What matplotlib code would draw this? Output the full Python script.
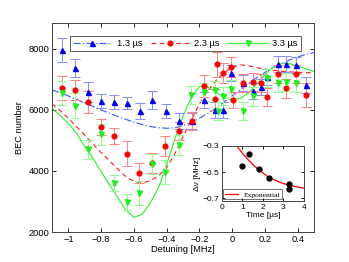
import matplotlib
matplotlib.use("Agg")
import matplotlib.pyplot as plt

plt.rcParams['font.family'] = ['Liberation Sans', 'DejaVu Sans']
plt.rcParams['axes.unicode_minus'] = True

# ---- data ----
blue_x = [-1.04, -0.96, -0.88, -0.80, -0.72, -0.645, -0.565, -0.49, -0.405, -0.325, -0.248, -0.172,
          -0.105, -0.057, -0.005, 0.065, 0.124, 0.175, 0.213, 0.28, 0.331, 0.388, 0.453]
blue_y = [7968, 7378, 6591, 6295, 6263, 6230, 5968, 6328, 5968, 5640, 5640, 6328,
          6000, 6000, 7214, 6886, 6623, 6754, 7082, 7509, 7509, 7476, 6820]
blue_e = [390, 300, 330, 215, 230, 200, 250, 280, 230, 250, 260, 260,
          260, 260, 260, 260, 260, 260, 260, 260, 260, 260, 260]

red_x = [-1.04, -0.96, -0.88, -0.80, -0.72, -0.644, -0.566, -0.487, -0.408, -0.326, -0.248, -0.172,
         -0.105, -0.09, -0.057, -0.005, 0.004, 0.065, 0.124, 0.175, 0.213, 0.28, 0.331, 0.388, 0.453]
red_y = [6712, 6656, 6273, 5453, 5148, 4558, 3944, 4253, 4820, 5312, 5640, 6787,
         6345, 7492, 7214, 7410, 6328, 6876, 6909, 6886, 6427, 7181, 6705, 7181, 6492]
red_e = [390, 330, 360, 260, 260, 410, 330, 330, 330, 300, 300, 360,
         330, 420, 330, 330, 260, 300, 300, 300, 300, 300, 300, 300, 390]

green_x = [-1.04, -0.96, -0.88, -0.80, -0.72, -0.644, -0.566, -0.487, -0.408, -0.326, -0.25, -0.17,
           -0.105, -0.085, -0.057, -0.005, 0.065, 0.124, 0.213, 0.28, 0.331, 0.388]
green_y = [6568, 6132, 4705, 5197, 3607, 2994, 3289, 4230, 3977, 4853, 6492, 6591,
           6656, 5977, 6459, 6679, 5968, 6443, 7040, 6876, 6918, 6876]
green_e = [390, 410, 300, 330, 250, 260, 390, 330, 390, 330, 300, 300,
           300, 300, 300, 300, 300, 300, 300, 300, 300, 300]

fit_x = [-1.10, -1.05, -1.00, -0.95, -0.90, -0.85, -0.80, -0.75, -0.70, -0.65, -0.60, -0.55,
         -0.50, -0.45, -0.40, -0.35, -0.30, -0.25, -0.20, -0.15, -0.10, -0.05, 0.00, 0.05,
         0.10, 0.15, 0.20, 0.25, 0.30, 0.35, 0.40, 0.45, 0.50]
fit_blue = [6660, 6560, 6460, 6345, 6230, 6115, 6000, 5895, 5790, 5695, 5600, 5525,
            5460, 5420, 5400, 5420, 5480, 5590, 5730, 5880, 6060, 6260, 6470, 6670,
            6870, 7060, 7230, 7390, 7520, 7640, 7740, 7820, 7880]
fit_red = [6200, 5980, 5730, 5450, 5170, 4880, 4600, 4340, 4070, 3820, 3660, 3610,
           3680, 3840, 4110, 4560, 5130, 5670, 6200, 6620, 6960, 7220, 7400, 7480,
           7450, 7390, 7340, 7300, 7270, 7250, 7235, 7225, 7220]
fit_green = [6050, 5820, 5560, 5240, 4800, 4420, 3980, 3550, 3150, 2720, 2480, 2580,
             2950, 3450, 4200, 5050, 5800, 6400, 6780, 6760, 6580, 6410, 6330, 6380,
             6560, 6850, 7160, 7400, 7520, 7520, 7440, 7350, 7260]

labels = ['1.3 \u00b5s', '2.3 \u00b5s', '3.3 \u00b5s']
xticks = [-1, -0.8, -0.6, -0.4, -0.2, 0, 0.2, 0.4]
yticks = [2000, 4000, 6000, 8000]

inset_t = [1.0, 1.3, 1.8, 2.3, 3.3, 3.3]
inset_v = [-0.45, -0.36, -0.475, -0.545, -0.59, -0.63]
exp_t = [0.7, 0.8, 1.0, 1.25, 1.5, 1.75, 2.0, 2.25, 2.5, 2.75, 3.0, 3.25, 3.5, 3.75, 4.0]
exp_v = [-0.295, -0.315, -0.355, -0.40, -0.44, -0.475, -0.505, -0.535, -0.555, -0.572,
         -0.587, -0.598, -0.607, -0.615, -0.622]
inset_xticks = [0, 1, 2, 3, 4]
inset_yticks = [-0.7, -0.5, -0.3]

# ---- figure ----
fig = plt.figure(figsize=(3.49, 2.62), dpi=100)
ax = fig.add_axes([0.149, 0.1145, 0.751, 0.7975])

fs = 6.7
cols = {'b': '#0000ff', 'r': '#ff0000', 'g': '#1ef01e'}
ecols = {'b': '#8591ff', 'r': '#ff8585', 'g': '#90ff90'}

# fits
ax.plot(fit_x, fit_blue, linestyle=(0, (6, 2, 1, 2)), color='#4060ff', lw=0.85, zorder=2)
ax.plot(fit_x, fit_red, linestyle=(0, (4, 3)), color='#ff2020', lw=0.85, zorder=2)
ax.plot(fit_x, fit_green, linestyle='-', color='#33ee33', lw=0.85, zorder=2)

# error bars
for xs, ys, es, k in [(blue_x, blue_y, blue_e, 'b'), (red_x, red_y, red_e, 'r'),
                      (green_x, green_y, green_e, 'g')]:
    ax.errorbar(xs, ys, yerr=es, fmt='none', ecolor=ecols[k], elinewidth=0.75,
                capsize=3.5, capthick=0.75, zorder=3)

ax.plot(blue_x, blue_y, '^', color=cols['b'], ms=3.6, mec=cols['b'], zorder=4)
ax.plot(red_x, red_y, 'o', color=cols['r'], ms=3.4, mec=cols['r'], zorder=4)
ax.plot(green_x, green_y, 'v', color=cols['g'], ms=3.6, mec=cols['g'], zorder=4)

# legend proxies
hb, = ax.plot([], [], linestyle=(0, (6, 2, 1, 2)), color='#4060ff', lw=0.85,
              marker='^', ms=3.6, mfc=cols['b'], mec=cols['b'])
hr, = ax.plot([], [], linestyle=(0, (4, 3)), color='#ff2020', lw=0.85,
              marker='o', ms=3.4, mfc=cols['r'], mec=cols['r'])
hg, = ax.plot([], [], linestyle='-', color='#33ee33', lw=0.85,
              marker='v', ms=3.6, mfc=cols['g'], mec=cols['g'])
leg = ax.legend([hb, hr, hg], labels, ncol=3, loc='center',
                bbox_to_anchor=(0.508, 0.903), fontsize=fs, frameon=True,
                fancybox=False, handlelength=4.2, handletextpad=0.5,
                columnspacing=0.9, borderpad=0.35, borderaxespad=0.2)
leg.get_frame().set_edgecolor('#333333')
leg.get_frame().set_linewidth(0.7)

ax.set_xlim(-1.1, 0.5)
ax.set_ylim(2000, 8850)
ax.set_xticks(xticks)
ax.set_xticklabels(['\u22121', '\u22120.8', '\u22120.6', '\u22120.4', '\u22120.2', '0', '0.2', '0.4'])
ax.set_yticks(yticks)
ax.tick_params(direction='in', top=True, right=True, labelsize=fs, length=3, width=0.6, pad=2)
for s in ax.spines.values():
    s.set_linewidth(0.7)
    s.set_color('#444444')
ax.set_xlabel('Detuning [MHz]', fontsize=fs, labelpad=1)
ax.set_ylabel('BEC number', fontsize=fs, labelpad=3)

# ---- inset ----
ins = fig.add_axes([0.636, 0.233, 0.234, 0.210])
ins.plot(exp_t, exp_v, color='#ff0000', lw=0.9, label='Exponential', zorder=2)
ins.plot(inset_t, inset_v, 'o', color='black', ms=3.5, zorder=3)
ins.set_xlim(0, 4)
ins.set_ylim(-0.72, -0.3)
ins.set_xticks(inset_xticks)
ins.set_yticks(inset_yticks)
ins.set_yticklabels(['\u22120.7', '\u22120.5', '\u22120.3'])
ins.tick_params(direction='in', top=True, right=True, labelsize=6, length=2.5, width=0.6, pad=2)
for s in ins.spines.values():
    s.set_linewidth(0.7)
    s.set_color('#444444')
ins.set_xlabel('Time [\u00b5s]', fontsize=6, labelpad=1)
ins.set_ylabel('\u0394\u03bd [MHz]', fontsize=6, labelpad=1)
il = ins.legend(loc='lower left', prop={'family': 'Liberation Serif', 'size': 5.4},
                frameon=True, fancybox=False, handlelength=1.7, handletextpad=0.7,
                borderpad=0.25, borderaxespad=0.2)
il.get_frame().set_edgecolor('#333333')
il.get_frame().set_linewidth(0.6)
il.set_zorder(1)

fig.savefig('out.png', dpi=100)
